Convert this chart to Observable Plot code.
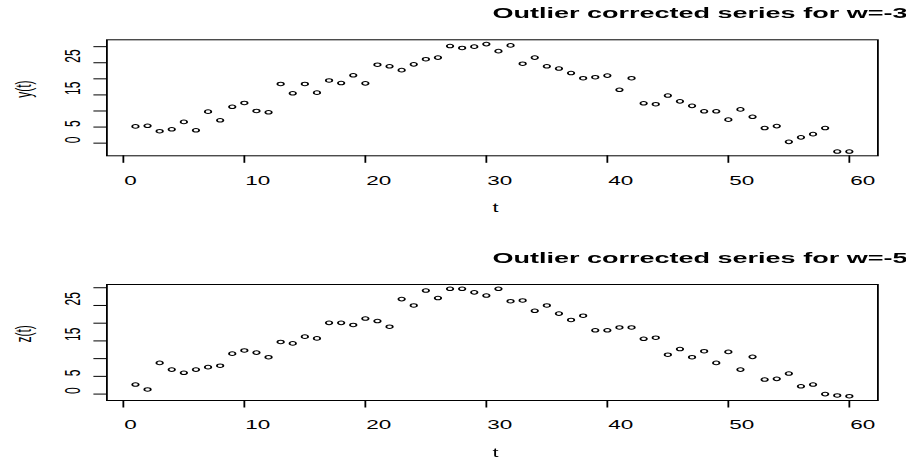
<!DOCTYPE html>
<html>
<head>
<meta charset="utf-8">
<script src="https://cdn.jsdelivr.net/npm/d3@7"></script>
<script src="https://cdn.jsdelivr.net/npm/@observablehq/plot@0.6"></script>
<style>
  html, body { margin: 0; padding: 0; background: #fff; overflow: hidden; }
  #wrap { width: 503px; transform: scaleX(1.80119); transform-origin: 0 0; }
  #wrap svg { display: block; }
</style>
</head>
<body>
<div id="wrap"></div>
<script>
const tValues = [1,2,3,4,5,6,7,8,9,10,11,12,13,14,15,16,17,18,19,20,
  21,22,23,24,25,26,27,28,29,30,31,32,33,34,35,36,37,38,39,40,
  41,42,43,44,45,46,47,48,49,50,51,52,53,54,55,56,57,58,59,60];

const yValues = [5.2,5.4,3.7,4.3,6.6,4.0,9.8,7.1,11.3,12.5,
  10.0,9.6,18.4,15.5,18.4,15.7,19.5,18.7,21.1,18.6,
  24.4,23.9,22.7,24.5,26.1,26.6,30.2,29.6,30.0,30.8,
  28.6,30.4,24.7,26.6,23.9,23.2,21.8,20.2,20.5,21.0,
  16.6,20.2,12.4,12.1,14.8,13.0,11.6,9.9,9.9,7.3,
  10.5,8.2,4.7,5.3,0.4,1.8,2.8,4.7,-2.6,-2.6];

const zValues = [2.7,1.3,8.8,6.9,6.0,6.9,7.6,8.0,11.4,12.3,
  11.7,10.4,14.7,14.3,16.2,15.7,20.1,20.1,19.5,21.3,
  20.6,19.0,26.8,25.0,29.2,27.1,29.7,29.7,28.7,27.8,
  29.7,26.2,26.4,23.5,25.0,22.7,20.9,22.1,18.0,18.0,
  18.8,18.8,15.6,15.9,11.1,12.7,10.4,12.1,8.8,11.9,
  6.9,10.5,4.1,4.3,5.8,2.2,2.7,0.0,-0.4,-0.6];

const xTicks = [0,10,20,30,40,50,60];
const yTicks = [0,5,10,15,20,25,30];
const yTickLabels = [0,5,15,25];
const titles = ["Outlier corrected series for w=-3", "Outlier corrected series for w=-5"];
const yLabels = ["y(t)", "z(t)"];
const xLabel = "t";

const W = 503;
const ML = 58.85, MR = 16.1;

function panel(vals, ylab, title, height, marginTop, marginBottom) {
  const data = tValues.map((t, i) => ({t, v: vals[i]}));
  const [lo, hi] = d3.extent(vals);
  const pad = (hi - lo) * 0.04;
  const [tlo, thi] = d3.extent(tValues);
  const xpad = (thi - tlo) * 0.04;
  return Plot.plot({
    width: W, height,
    marginLeft: ML, marginRight: MR, marginTop, marginBottom,
    style: {fontFamily: "'Liberation Sans', Arial, Helvetica, sans-serif", fontSize: "12px", background: "white", color: "black", overflow: "visible"},
    x: {domain: [tlo - xpad, thi + xpad]},
    y: {domain: [lo - pad, hi + pad]},
    marks: [
      Plot.frame({stroke: "black", strokeWidth: 1}),
      Plot.axisX({ticks: xTicks, tickSize: 7.5, tickFormat: () => "", label: null, stroke: "black"}),
      Plot.text(xTicks, {x: d => d, frameAnchor: "bottom", dy: 20, dx: 0.5, text: d => String(d), textAnchor: "start", lineAnchor: "top", fontSize: 12.5, fill: "black"}),
      Plot.axisY({ticks: yTicks, tickSize: 7, tickFormat: () => "", label: null, stroke: "black"}),
      Plot.text(yTickLabels, {y: d => d, frameAnchor: "left", dx: -19, text: d => String(d), rotate: -90, textAnchor: "start", lineAnchor: "middle", fontSize: 12, fill: "black"}),
      Plot.text([ylab], {frameAnchor: "left", dx: -46, text: d => d, rotate: -90, textAnchor: "start", lineAnchor: "middle", fontSize: 12, fill: "black"}),
      Plot.text([xLabel], {frameAnchor: "bottom", dy: 52.6, text: d => d, textAnchor: "start", lineAnchor: "middle", fontSize: 12, fill: "black"}),
      Plot.text([title], {frameAnchor: "top", dy: -26.5, text: d => d, textAnchor: "start", lineAnchor: "middle", fontSize: 15, fontWeight: "bold", fill: "black"}),
      Plot.dot(data, {x: "t", y: "v", r: 1.8, stroke: "black", strokeWidth: 1, fill: "none"})
    ]
  });
}

const wrap = document.getElementById("wrap");
wrap.appendChild(panel(yValues, yLabels[0], titles[0], 245, 39.3, 89.7));
wrap.appendChild(panel(zValues, yLabels[1], titles[1], 215, 39, 60));
</script>
</body>
</html>
